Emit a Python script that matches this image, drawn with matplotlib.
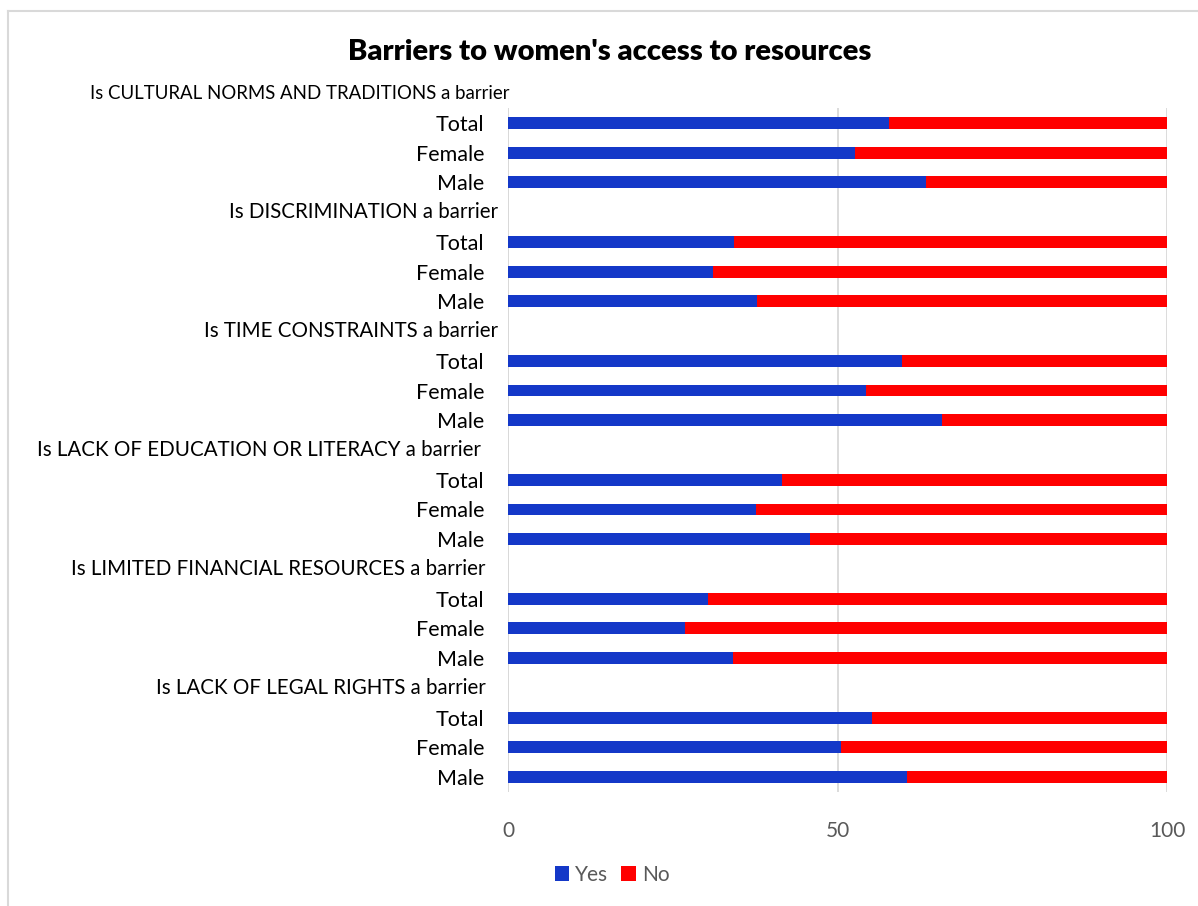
import matplotlib
matplotlib.use("Agg")
import matplotlib.pyplot as plt
import matplotlib.transforms as mtransforms
from matplotlib.lines import Line2D
from matplotlib.patches import Patch

# Survey results: share answering "Yes" (%), per barrier, for Total / Female / Male
barriers = [
    "Is CULTURAL NORMS AND TRADITIONS a barrier",
    "Is DISCRIMINATION a barrier",
    "Is TIME CONSTRAINTS a barrier",
    "Is LACK OF EDUCATION OR LITERACY a barrier",
    "Is LIMITED FINANCIAL RESOURCES a barrier",
    "Is LACK OF LEGAL RIGHTS a barrier",
]
groups = ["Total", "Female", "Male"]
yes_total = [57.8, 34.3, 59.8, 41.6, 30.4, 55.3]
yes_female = [52.7, 31.1, 54.3, 37.6, 26.8, 50.5]
yes_male = [63.4, 37.8, 65.8, 45.8, 34.2, 60.6]
x_ticks = [0, 50, 100]
series_names = ["Yes", "No"]

BLUE = "#1438C8"
RED = "#FF0000"
GRID = "#D9D9D9"
TICK_COL = "#595959"
FONT = "Lato"

W, H = 1198, 906
fig = plt.figure(figsize=(W / 100, H / 100), dpi=100)
ax = fig.add_axes([508 / W, 1 - 792 / H, (1167 - 508) / W, (792 - 108) / H])

# Build rows top to bottom: header, Total, Female, Male for each barrier
labels, yes_vals, header_rows = [], [], []
for i, b in enumerate(barriers):
    header_rows.append((len(labels), b))
    labels.append("")
    yes_vals.append(None)
    for g, vals in zip(groups, (yes_total, yes_female, yes_male)):
        labels.append(g)
        yes_vals.append(vals[i])

n = len(labels)
ypos = list(range(n))
bar_h = 0.4
for y, v in zip(ypos, yes_vals):
    if v is None:
        continue
    ax.barh(y, v, height=bar_h, color=BLUE, zorder=3)
    ax.barh(y, 100 - v, left=v, height=bar_h, color=RED, zorder=3)

ax.set_xlim(0, 100)
ax.set_ylim(n - 0.5, 0.5)
ax.set_xticks(x_ticks)
ax.set_xticklabels([str(t) for t in x_ticks], fontsize=15, color=TICK_COL, family=FONT)
ax.tick_params(axis="x", length=0, pad=21)

bar_rows = [y for y, v in zip(ypos, yes_vals) if v is not None]
ax.set_yticks(bar_rows)
ax.set_yticklabels([labels[y] for y in bar_rows], fontsize=15.5, family=FONT, color="black")
ax.tick_params(axis="y", length=0, pad=17)

for s in ax.spines.values():
    s.set_visible(False)
ax.xaxis.grid(True, color=GRID, linewidth=1.3, zorder=0)
ax.axvline(0, color=GRID, linewidth=1.3, zorder=1)

# Group headers, right-aligned near the axis (pixel x of right edge)
header_right = [510, 498, 498, 481, 485, 486]
blend = mtransforms.blended_transform_factory(fig.transFigure, ax.transData)
for (row, text), xr in zip(header_rows, header_right):
    ax.text(xr / W, row, text, transform=blend,
            ha="right", va="center", fontsize=13.4 if row == 0 else 14.8,
            family=FONT, clip_on=False)

fig.text(610 / W, 1 - 52 / H, "Barriers to women's access to resources",
         ha="center", va="center", fontsize=21, fontweight="heavy", family=FONT)

handles = [Patch(facecolor=BLUE, edgecolor="none"), Patch(facecolor=RED, edgecolor="none")]
leg = fig.legend(handles, series_names, loc="center", bbox_to_anchor=(612 / W, 1 - 875 / H),
                 ncol=2, frameon=False, handlelength=0.7, handleheight=0.7,
                 handletextpad=0.3, columnspacing=0.6,
                 prop={"family": FONT, "size": 15})
for t in leg.get_texts():
    t.set_color(TICK_COL)

# Chart-area border (top and left edges)
fig.add_artist(Line2D([8 / W, 1197 / W], [1 - 11 / H, 1 - 11 / H],
                      transform=fig.transFigure, color=GRID, linewidth=1.5))
fig.add_artist(Line2D([8 / W, 8 / W], [1 - 11 / H, 0], transform=fig.transFigure,
                      color=GRID, linewidth=1.5))

fig.savefig("out.png", dpi=100, facecolor="white")
